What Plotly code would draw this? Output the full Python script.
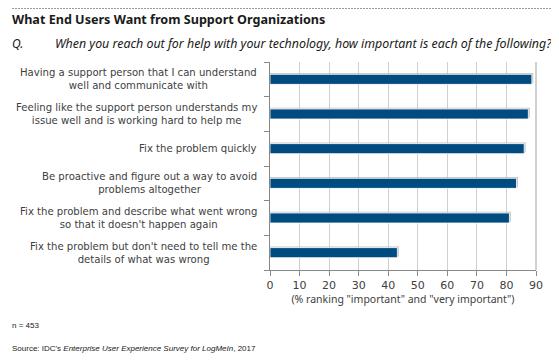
import plotly.graph_objects as go

categories = [
    "Having a support person that I can understand<br>well and communicate with",
    "Feeling like the support person understands my<br>issue well and is working hard to help me",
    "Fix the problem quickly",
    "Be proactive and figure out a way to avoid<br>problems altogether",
    "Fix the problem and describe what went wrong<br>so that it doesn't happen again",
    "Fix the problem but don't need to tell me the<br>details of what was wrong",
]
values = [88.6, 87.4, 86.0, 83.4, 81.0, 43.1]
tick_vals = [0, 10, 20, 30, 40, 50, 60, 70, 80, 90]

FONT = "DejaVu Sans"
FONT2 = "Noto Sans"
BAR = "#004B80"
TXT = "#404040"

# the page body has an 8px margin; work in reference pixels and subtract it
OFF = 8
W, H = 559 - OFF, 360 - OFF
L, R, T, B = 270 - OFF, 23, 62 - OFF, 90
PW, PH = W - L - R, H - T - B

fig = go.Figure()
# soft shadow behind the bars
fig.add_trace(go.Bar(
    y=categories, x=[v + 0.5 for v in values], orientation="h",
    width=0.29, offset=-0.11, marker=dict(color="rgba(150,150,150,0.55)", line=dict(width=0)),
    hoverinfo="skip", showlegend=False,
))
fig.add_trace(go.Bar(
    y=categories, x=values, orientation="h",
    width=0.29, offset=-0.145, marker=dict(color=BAR, line=dict(color="white", width=0.8)),
    showlegend=False,
))

for c in categories:
    fig.add_annotation(
        x=0, xref="paper", y=c, yref="y", text=c, showarrow=False,
        xanchor="right", yanchor="middle", align="center", xshift=-11,
        font=dict(family=FONT, size=10.1, color=TXT),
    )


def px_ann(x, y, text, size, family=FONT2, color="#1a1a1a", anchor="left"):
    # position given in reference pixels from top-left of the picture
    fig.add_annotation(
        x=(x - OFF - L) / PW, y=1 - (y - OFF - T) / PH, xref="paper", yref="paper",
        text=text, showarrow=False, xanchor=anchor, yanchor="middle",
        font=dict(family=family, size=size, color=color),
    )


px_ann(10, 19, "<b>What End Users Want from Support Organizations</b>", 12.6)
px_ann(10, 43, "<i>Q.</i>", 12)
px_ann(53, 43, "<i>When you reach out for help with your technology, how important is each of the following?</i>", 12.4)
px_ann(10, 325, "n = 453", 8, family="Liberation Sans")
px_ann(10, 348, "Source: IDC's <i>Enterprise User Experience Survey for LogMeIn</i>, 2017", 8, family="Liberation Sans")

line_y = 8.5  # as close to the top as the page allows
fig.update_layout(
    width=W, height=H,
    margin=dict(l=L, r=R, t=T, b=B, autoexpand=False),
    paper_bgcolor="white", plot_bgcolor="white",
    barmode="overlay",
    font=dict(family=FONT, color=TXT),
    xaxis=dict(
        range=[0, 90], tickvals=tick_vals, showgrid=True, gridcolor="#d0d0d0", gridwidth=1,
        ticks="outside", ticklen=5, tickcolor="#888888", showline=True, linecolor="#888888",
        mirror=False, tickfont=dict(family=FONT, size=11, color=TXT), zeroline=False,
        automargin=False,
        title=dict(text='(% ranking "important" and "very important")',
                   font=dict(family=FONT2, size=10.5, color=TXT), standoff=2),
    ),
    yaxis=dict(
        categoryorder="array", categoryarray=categories[::-1], automargin=False,
        showticklabels=False, ticks="outside", tickson="boundaries", ticklen=5,
        tickcolor="#888888", showline=True, linecolor="#888888", showgrid=False,
    ),
    shapes=[
        dict(type="line", xref="paper", yref="paper", x0=1, x1=1, y0=0, y1=1,
             line=dict(color="#c0c0c0", width=1.5)),
        dict(type="line", xref="paper", yref="paper",
             x0=(12 - OFF - L) / PW, x1=(555 - OFF - L) / PW,
             y0=1 + (T - (line_y - OFF)) / PH, y1=1 + (T - (line_y - OFF)) / PH,
             line=dict(color="#999999", width=1, dash="2px,1px")),
    ],
)

fig.write_html("out.html")
